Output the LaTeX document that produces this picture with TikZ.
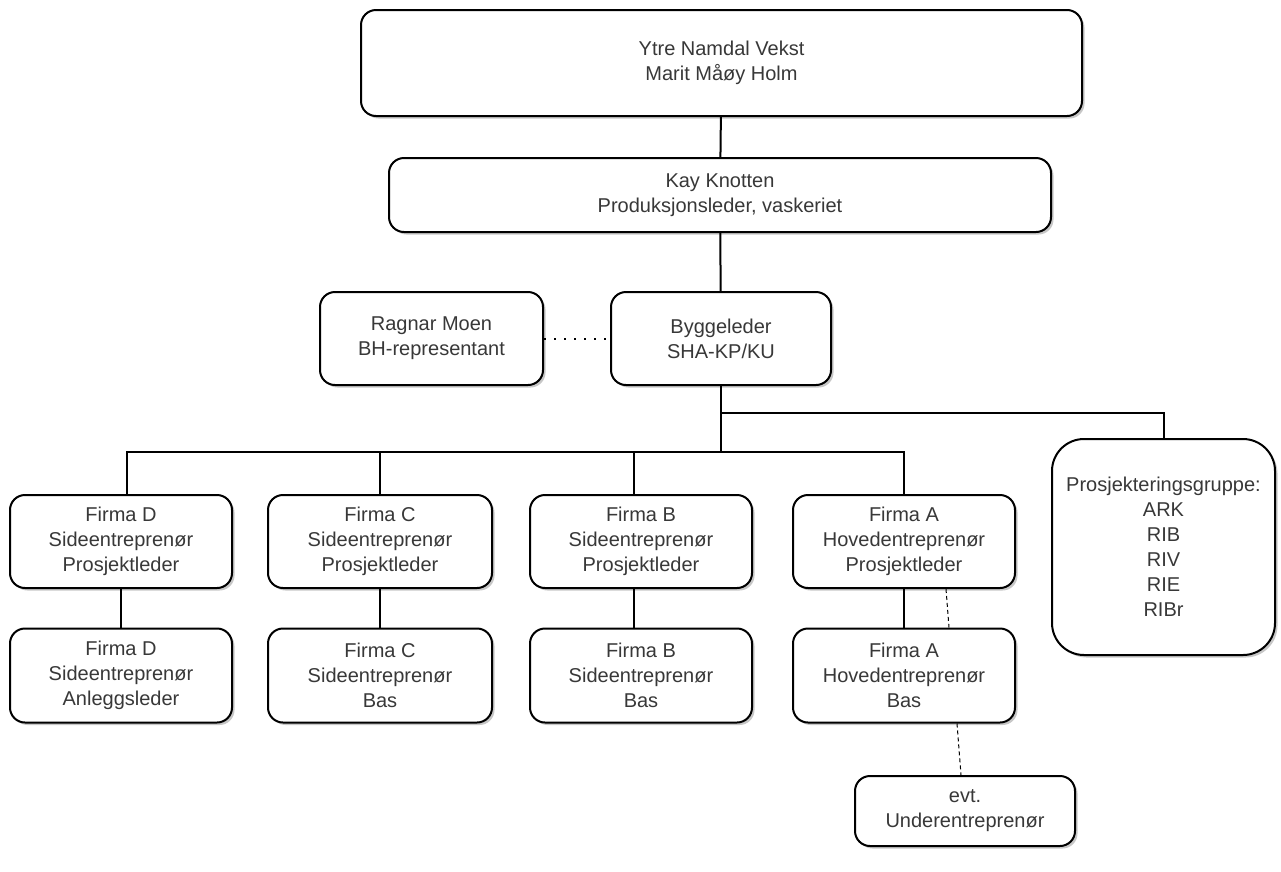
\documentclass[tikz,border=0pt]{standalone}
\usepackage{fontspec}
\setmainfont{Liberation Sans}
\usetikzlibrary{shadows,calc}
\definecolor{txt}{HTML}{383838}
\tikzset{
  box/.style={draw=black, line width=2pt, rounded corners=15pt, fill=white,
    drop shadow={shadow xshift=2.5pt, shadow yshift=-2.5pt, fill=black, opacity=0.22},
    align=center, text=txt, inner sep=0pt,
    font=\fontsize{20}{25}\selectfont},
  conn/.style={draw=black, line width=2pt},
  dotconn/.style={draw=black, line width=2pt, dash pattern=on 2pt off 8pt},
  dashconn/.style={draw=black, line width=1pt, dash pattern=on 4pt off 3pt},
}
\begin{document}
\begin{tikzpicture}[x=1pt,y=-1pt]
\useasboundingbox (0,0) rectangle (1281,871);
% nodes
\node[box, minimum width=721pt, minimum height=106pt] (top) at (721.5,63) {Ytre Namdal Vekst\\Marit Måøy Holm};
\node[box, minimum width=662pt, minimum height=74pt] (kay) at (720,195) {Kay Knotten\\Produksjonsleder, vaskeriet};
\node[box, minimum width=223pt, minimum height=93pt] (ragnar) at (431.5,338.5) {Ragnar Moen\\BH-representant};
\node[box, minimum width=220pt, minimum height=93pt] (bygg) at (721,338.5) {Byggeleder\\SHA-KP/KU};
\node[box, minimum width=222pt, minimum height=93pt] (fD) at (121,541.5) {Firma D\\Sideentreprenør\\Prosjektleder};
\node[box, minimum width=224pt, minimum height=93pt] (fC) at (380,541.5) {Firma C\\Sideentreprenør\\Prosjektleder};
\node[box, minimum width=222pt, minimum height=93pt] (fB) at (641,541.5) {Firma B\\Sideentreprenør\\Prosjektleder};
\node[box, minimum width=222pt, minimum height=93pt] (fA) at (904,541.5) {Firma A\\Hovedentreprenør\\Prosjektleder};
\node[box, minimum width=222pt, minimum height=94pt] (fD2) at (121,675.5) {Firma D\\Sideentreprenør\\Anleggsleder};
\node[box, minimum width=224pt, minimum height=94pt] (fC2) at (380,675.5) {Firma C\\Sideentreprenør\\Bas};
\node[box, minimum width=222pt, minimum height=94pt] (fB2) at (641,675.5) {Firma B\\Sideentreprenør\\Bas};
\node[box, minimum width=222pt, minimum height=94pt] (fA2) at (904,675.5) {Firma A\\Hovedentreprenør\\Bas};
\node[box, minimum width=220pt, minimum height=70pt] (under) at (965,811) {evt.\\Underentreprenør};
\node[box, rounded corners=32pt, minimum width=223pt, minimum height=216pt] (prosj) at (1163.5,547) {Prosjekteringsgruppe:\\ARK\\RIB\\RIV\\RIE\\RIBr};
% connectors
\coordinate (bus) at (721,452);
\coordinate (branch) at (721,413);
\draw[conn] (top) -- (kay);
\draw[conn] (kay) -- (bygg);
\draw[dotconn] (ragnar.east) -- (bygg.west);
\draw[conn] (bygg.south) -- (bus);
\draw[conn] (bus) -| ($(fD.north)+(6,0)$);
\draw[conn] (bus) -| (fC.north);
\draw[conn] (bus) -| ($(fB.north)+(-7,0)$);
\draw[conn] (bus) -| (fA.north);
\draw[conn] (branch) -| (prosj.north);
\draw[conn] (fD) -- (fD2);
\draw[conn] (fC) -- (fC2);
\draw[conn] ($(fB.south)+(-7,0)$) -- ($(fB2.north)+(-7,0)$);
\draw[conn] (fA) -- (fA2);
\draw[dashconn] ($(fA.south)+(42,0)$) -- ($(fA2.north)+(45,0)$);
\draw[dashconn] ($(fA2.south)+(53,0)$) -- ($(under.north)+(-4,0)$);
\end{tikzpicture}
\end{document}
